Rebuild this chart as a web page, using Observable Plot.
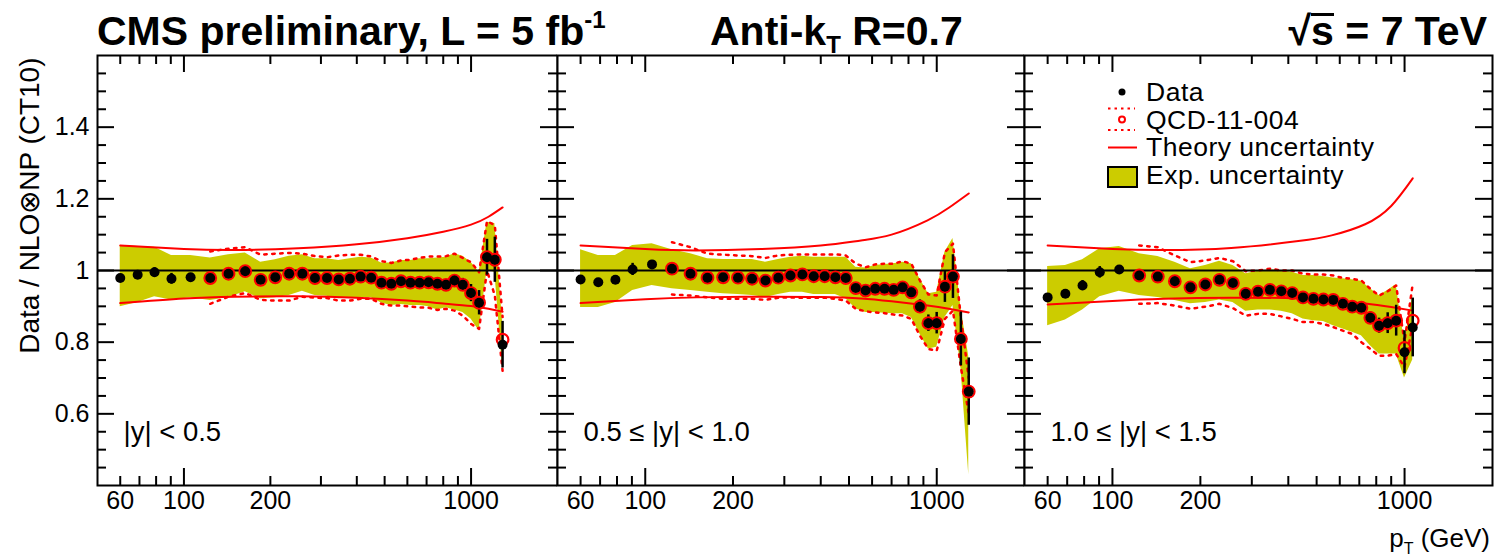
<!DOCTYPE html>
<html>
<head>
<meta charset="utf-8">
<script src="https://cdn.jsdelivr.net/npm/d3@7"></script>
<script src="https://cdn.jsdelivr.net/npm/@observablehq/plot@0.6"></script>
<style>
  html, body { margin: 0; padding: 0; background: #fff; }
  #chart { position: relative; width: 1496px; height: 560px; overflow: hidden;
           font-family: "Liberation Sans", Arial, Helvetica, sans-serif; color: #000; }
  #head { position: relative; height: 52px; }
  .title { position: absolute; top: 11px; font-weight: bold; font-size: 41px; line-height: 41px; white-space: nowrap; }
  .title .sup { font-size: 24px; position: relative; top: -17px; }
  .title .sub { font-size: 24px; position: relative; top: 8px; }
  .title .ovl { border-top: 3px solid #000; padding-top: 0; display: inline-block; line-height: 30px; }
  #plots { display: flex; align-items: flex-start; }
  #plots svg { flex: none; }
  #xtitle { position: absolute; right: 6px; top: 525px; font-size: 26px; line-height: 26px; white-space: nowrap; }
  #xtitle .sub { font-size: 16px; position: relative; top: 7px; }
  #legend { position: absolute; left: 1100px; top: 75px; }
</style>
</head>
<body>
<div id="chart">
  <div id="head">
    <span class="title" style="left:97px">CMS preliminary, L = 5 fb<span class="sup">-1</span></span>
    <span class="title" style="left:710px">Anti-k<span class="sub">T</span> R=0.7</span>
    <span class="title" style="right:9px">√<span class="ovl">s</span> = 7 TeV</span>
  </div>
  <div id="plots"></div>
  <svg id="legend" width="320" height="125" font-family="Liberation Sans, Arial, sans-serif" font-size="26.5" letter-spacing="0.5">
    <circle cx="22" cy="17" r="3.5" fill="#000"></circle>
    <text x="46" y="26">Data</text>
    <line x1="8" x2="35" y1="33.5" y2="33.5" stroke="#f00" stroke-width="2" stroke-dasharray="2.5,4"></line>
    <line x1="8" x2="35" y1="55" y2="55" stroke="#f00" stroke-width="2" stroke-dasharray="2.5,4"></line>
    <circle cx="22" cy="44.5" r="3" fill="none" stroke="#f00" stroke-width="2"></circle>
    <text x="46" y="53.5">QCD-11-004</text>
    <line x1="8" x2="37" y1="72.5" y2="72.5" stroke="#f00" stroke-width="2"></line>
    <text x="46" y="81">Theory uncertainty</text>
    <rect x="8" y="92" width="29" height="20" fill="#cccc00" stroke="#000" stroke-width="2"></rect>
    <text x="46" y="108.5">Exp. uncertainty</text>
  </svg>
  <div id="xtitle">p<span class="sub">T</span> (GeV)</div>
</div>
<script>
// Jet pT bin centres (GeV) shared by the three rapidity bins
const ptCenters = [60, 69, 79, 90.5, 105.5, 123.5, 143, 163.5, 185, 208, 232.5, 258.5, 286, 315, 346,
  378.5, 412.5, 449, 487.5, 527.5, 570, 615, 662, 711.5, 763.5, 818, 875.5, 936, 999.5, 1066.5,
  1136.5, 1210, 1287.5];
// first bin where the QCD-11-004 result is available
const qcdStart = 5;

const rapidityLabels = ["|y| < 0.5", "0.5 ≤ |y| < 1.0", "1.0 ≤ |y| < 1.5"];
const yTitle = "Data / NLO⊗NP (CT10)";

// |y| < 0.5
const ratioY0 = [0.979, 0.988, 0.995, 0.977, 0.981, 0.979, 0.991, 0.998, 0.974, 0.981, 0.991, 0.991, 0.979,
  0.979, 0.975, 0.977, 0.983, 0.980, 0.966, 0.963, 0.970, 0.966, 0.966, 0.967, 0.963, 0.960, 0.972, 0.960,
  0.937, 0.910, 1.037, 1.030, 0.793];
const statY0 = [0.004, 0.004, 0.013, 0.015, 0.004, 0.005, 0.012, 0.015, 0.005, 0.005, 0.005, 0.005, 0.013,
  0.005, 0.005, 0.005, 0.005, 0.005, 0.005, 0.005, 0.005, 0.005, 0.006, 0.006, 0.007, 0.008, 0.016, 0.018,
  0.024, 0.034, 0.050, 0.063, 0.065];
const expHiY0 = [1.070, 1.067, 1.065, 1.042, 1.042, 1.035, 1.044, 1.049, 1.023, 1.030, 1.040, 1.044, 1.033,
  1.033, 1.028, 1.033, 1.037, 1.035, 1.021, 1.021, 1.028, 1.028, 1.033, 1.033, 1.035, 1.037, 1.047, 1.040,
  1.023, 0.995, 1.135, 1.131, 0.860];
const expLoY0 = [0.899, 0.911, 0.927, 0.918, 0.924, 0.916, 0.925, 0.941, 0.921, 0.924, 0.930, 0.942, 0.930,
  0.928, 0.921, 0.924, 0.925, 0.924, 0.909, 0.902, 0.905, 0.902, 0.902, 0.899, 0.890, 0.896, 0.890, 0.883,
  0.865, 0.832, 1.000, 0.995, 0.725];
const qcdY0 = [0.979, 0.991, 0.998, 0.974, 0.981, 0.991, 0.991, 0.979, 0.979, 0.975, 0.977, 0.983, 0.980,
  0.966, 0.963, 0.970, 0.966, 0.966, 0.967, 0.963, 0.960, 0.972, 0.960, 0.937, 0.910, 1.037, 1.030, 0.807];
const qcdHiY0 = [1.053, 1.061, 1.065, 1.044, 1.047, 1.049, 1.047, 1.040, 1.037, 1.042, 1.044, 1.044, 1.039,
  1.026, 1.021, 1.028, 1.030, 1.035, 1.039, 1.039, 1.040, 1.047, 1.035, 1.023, 0.995, 1.138, 1.126, 0.870];
const qcdLoY0 = [0.907, 0.927, 0.937, 0.918, 0.916, 0.916, 0.927, 0.924, 0.923, 0.916, 0.916, 0.921, 0.921,
  0.907, 0.902, 0.902, 0.899, 0.897, 0.896, 0.890, 0.893, 0.888, 0.874, 0.851, 0.837, 1.000, 0.930, 0.720];
const theoryPtY0 = [60, 100, 150, 250, 400, 600, 800, 1000, 1150, 1287.5];
const theoryHiY0 = [1.070, 1.060, 1.057, 1.062, 1.073, 1.090, 1.108, 1.128, 1.150, 1.176];
const theoryLoY0 = [0.909, 0.922, 0.927, 0.928, 0.924, 0.916, 0.908, 0.901, 0.893, 0.885];

// 0.5 <= |y| < 1.0
const ratioY1 = [0.975, 0.967, 0.974, 1.003, 1.017, 1.005, 0.991, 0.980, 0.981, 0.980, 0.977, 0.972, 0.980,
  0.986, 0.989, 0.984, 0.984, 0.981, 0.979, 0.951, 0.944, 0.949, 0.949, 0.946, 0.953, 0.939, 0.899, 0.853,
  0.853, 0.955, 0.983, 0.809, 0.662];
const statY1 = [0.004, 0.004, 0.010, 0.017, 0.004, 0.005, 0.008, 0.015, 0.005, 0.005, 0.005, 0.005, 0.016,
  0.005, 0.005, 0.005, 0.005, 0.005, 0.005, 0.005, 0.005, 0.005, 0.005, 0.006, 0.006, 0.014, 0.019, 0.023,
  0.030, 0.044, 0.061, 0.075, 0.094];
const expHiY1 = [1.058, 1.042, 1.042, 1.070, 1.075, 1.058, 1.047, 1.033, 1.031, 1.031, 1.031, 1.023, 1.031,
  1.037, 1.040, 1.037, 1.037, 1.037, 1.037, 1.009, 1.007, 1.014, 1.017, 1.019, 1.023, 1.019, 0.977, 0.935,
  0.939, 1.051, 1.089, 0.897, 0.760];
const expLoY1 = [0.897, 0.897, 0.911, 0.944, 0.958, 0.949, 0.944, 0.939, 0.935, 0.933, 0.930, 0.925, 0.933,
  0.939, 0.939, 0.933, 0.933, 0.933, 0.921, 0.893, 0.883, 0.883, 0.881, 0.879, 0.879, 0.869, 0.823, 0.781,
  0.786, 0.869, 0.902, 0.730, 0.430];
const qcdY1 = [1.005, 0.991, 0.980, 0.981, 0.980, 0.977, 0.972, 0.980, 0.986, 0.989, 0.984, 0.984, 0.981,
  0.979, 0.951, 0.944, 0.949, 0.949, 0.946, 0.953, 0.939, 0.899, 0.853, 0.853, 0.955, 0.983, 0.809, 0.662];
const qcdHiY1 = [1.079, 1.065, 1.047, 1.044, 1.042, 1.040, 1.035, 1.042, 1.044, 1.045, 1.045, 1.045, 1.045,
  1.042, 1.019, 1.009, 1.017, 1.019, 1.019, 1.026, 1.019, 0.972, 0.933, 0.930, 1.051, 1.075, 0.869, 0.700];
const qcdLoY1 = [0.933, 0.930, 0.925, 0.921, 0.921, 0.921, 0.918, 0.924, 0.925, 0.924, 0.924, 0.924, 0.921,
  0.916, 0.893, 0.886, 0.883, 0.881, 0.877, 0.874, 0.865, 0.818, 0.781, 0.776, 0.865, 0.888, 0.730, 0.600];
const theoryPtY1 = [60, 100, 150, 250, 400, 550, 700, 930, 1100, 1287.5];
const theoryHiY1 = [1.070, 1.060, 1.056, 1.060, 1.070, 1.084, 1.100, 1.140, 1.175, 1.215];
const theoryLoY1 = [0.909, 0.920, 0.925, 0.927, 0.926, 0.922, 0.914, 0.902, 0.893, 0.883];

// 1.0 <= |y| < 1.5
const ratioY2 = [0.925, 0.935, 0.958, 0.995, 1.003, 0.986, 0.983, 0.970, 0.953, 0.961, 0.974, 0.965, 0.935,
  0.941, 0.946, 0.942, 0.937, 0.925, 0.921, 0.919, 0.918, 0.907, 0.899, 0.896, 0.868, 0.846, 0.853, 0.860,
  0.772, 0.841];
const statY2 = [0.004, 0.004, 0.014, 0.016, 0.004, 0.005, 0.006, 0.016, 0.005, 0.005, 0.005, 0.005, 0.016,
  0.005, 0.005, 0.005, 0.005, 0.005, 0.005, 0.005, 0.005, 0.005, 0.006, 0.006, 0.016, 0.021, 0.029, 0.043,
  0.060, 0.082];
const expHiY2 = [1.011, 1.014, 1.030, 1.061, 1.067, 1.047, 1.039, 1.023, 1.005, 1.014, 1.026, 1.014, 0.991,
  0.998, 1.002, 1.000, 0.995, 0.986, 0.986, 0.983, 0.979, 0.977, 0.974, 0.970, 0.949, 0.930, 0.944, 0.961,
  0.800, 0.930];
const expLoY2 = [0.846, 0.862, 0.890, 0.927, 0.942, 0.930, 0.925, 0.916, 0.907, 0.911, 0.918, 0.911, 0.886,
  0.890, 0.890, 0.886, 0.879, 0.865, 0.860, 0.858, 0.846, 0.837, 0.828, 0.818, 0.790, 0.767, 0.767, 0.767,
  0.700, 0.750];
const qcdY2 = [0.986, 0.983, 0.970, 0.953, 0.961, 0.974, 0.965, 0.935, 0.941, 0.946, 0.942, 0.937, 0.925,
  0.921, 0.919, 0.918, 0.907, 0.899, 0.896, 0.868, 0.846, 0.853, 0.860, 0.784, 0.860];
const qcdHiY2 = [1.070, 1.065, 1.042, 1.023, 1.028, 1.035, 1.026, 0.998, 1.000, 1.005, 1.000, 1.000, 0.991,
  0.989, 0.989, 0.986, 0.979, 0.977, 0.972, 0.949, 0.930, 0.942, 0.958, 0.800, 0.963];
const qcdLoY2 = [0.907, 0.909, 0.902, 0.893, 0.899, 0.907, 0.895, 0.874, 0.879, 0.879, 0.872, 0.865, 0.856,
  0.856, 0.851, 0.842, 0.832, 0.823, 0.800, 0.781, 0.762, 0.762, 0.767, 0.730, 0.850];
const theoryPtY2 = [60, 100, 150, 255, 433, 563, 733, 900, 1066.5];
const theoryHiY2 = [1.070, 1.060, 1.057, 1.063, 1.082, 1.098, 1.129, 1.180, 1.257];
const theoryLoY2 = [0.905, 0.915, 0.921, 0.924, 0.922, 0.916, 0.908, 0.898, 0.888];

// axis ticks
const yTickLabels = [0.6, 0.8, 1.0, 1.2, 1.4];
const yMinorTicks = [0.45, 0.5, 0.55, 0.65, 0.7, 0.75, 0.85, 0.9, 0.95, 1.05, 1.1, 1.15, 1.25, 1.3, 1.35, 1.45, 1.5, 1.55];
const xTickLabels = [60, 100, 200, 1000];
const xMajorTicks = [100, 1000];
const xMinorTicks = [60, 70, 80, 90, 200, 300, 400, 500, 600, 700, 800, 900];

const RED = "#ff0000";
const BAND = "#cccc00";
const xDomain = [50, 2000];
const yDomain = [0.4, 1.6];
// panel geometry: inner frame widths and outer margins
const frameWidths = [460, 467, 468];
const leftMargins = [97, 0, 0];
const rightMargins = [0, 0, 4];
const H = 508, MT = 3, MB = 75;
const CELL_H = H - MT - MB;

const series = [
  [ratioY0, statY0, expHiY0, expLoY0, qcdY0, qcdHiY0, qcdLoY0, theoryPtY0, theoryHiY0, theoryLoY0],
  [ratioY1, statY1, expHiY1, expLoY1, qcdY1, qcdHiY1, qcdLoY1, theoryPtY1, theoryHiY1, theoryLoY1],
  [ratioY2, statY2, expHiY2, expLoY2, qcdY2, qcdHiY2, qcdLoY2, theoryPtY2, theoryHiY2, theoryLoY2]
];

function panel(k) {
  const [ratio, stat, eHi, eLo, q, qHi, qLo, tPt, tHi, tLo] = series[k];
  const points = ratio.map((v, i) => ({pt: ptCenters[i], v, err: stat[i], hi: eHi[i], lo: eLo[i]}));
  const qcd = q.map((v, i) => ({pt: ptCenters[i + qcdStart], v, hi: qHi[i], lo: qLo[i]}));
  const theory = tPt.map((pt, i) => ({pt, hi: tHi[i], lo: tLo[i]}));

  // inward tick marks on all four sides; tick lengths are given in pixels
  const decadePx = frameWidths[k] / Math.log10(xDomain[1] / xDomain[0]);
  const unitPx = CELL_H / (yDomain[1] - yDomain[0]);
  const tickStyle = {stroke: "#000", strokeWidth: 2};
  const ticks = [];
  for (const [vals, len] of [[yTickLabels, 17], [yMinorTicks, 9]]) {
    const span = 10 ** (len / decadePx);
    ticks.push(Plot.ruleY(vals, {y: d => d, x1: xDomain[0], x2: xDomain[0] * span, ...tickStyle}));
    ticks.push(Plot.ruleY(vals, {y: d => d, x1: xDomain[1] / span, x2: xDomain[1], ...tickStyle}));
  }
  for (const [vals, len] of [[xMajorTicks, 17], [xMinorTicks, 9]]) {
    const span = len / unitPx;
    ticks.push(Plot.ruleX(vals, {x: d => d, y1: yDomain[0], y2: yDomain[0] + span, ...tickStyle}));
    ticks.push(Plot.ruleX(vals, {x: d => d, y1: yDomain[1] - span, y2: yDomain[1], ...tickStyle}));
  }

  const yLabels = k === 0 ? [
    Plot.text(yTickLabels, {y: d => d, text: d => String(d), frameAnchor: "left", textAnchor: "end", dx: -8, fontSize: 25}),
    Plot.text([yTitle], {text: d => d, frameAnchor: "top-left", rotate: -90, textAnchor: "end",
      lineAnchor: "middle", dx: -67, dy: 2, fontSize: 28})
  ] : [];

  return Plot.plot({
    width: leftMargins[k] + frameWidths[k] + rightMargins[k], height: H,
    marginLeft: leftMargins[k], marginRight: rightMargins[k], marginTop: MT, marginBottom: MB,
    style: {fontFamily: "Liberation Sans, Arial, Helvetica, sans-serif", fontSize: "25px",
      background: "#fff", color: "#000", overflow: "visible"},
    x: {type: "log", domain: xDomain, axis: null},
    y: {domain: yDomain, axis: null},
    marks: [
      // experimental uncertainty band
      Plot.areaY(points, {x: "pt", y1: "lo", y2: "hi", fill: BAND, clip: true}),
      // QCD-11-004 uncertainty (dotted)
      Plot.line(qcd, {x: "pt", y: "hi", stroke: RED, strokeWidth: 2.5, strokeDasharray: "2.5,5.5", clip: true}),
      Plot.line(qcd, {x: "pt", y: "lo", stroke: RED, strokeWidth: 2.5, strokeDasharray: "2.5,5.5", clip: true}),
      // theory uncertainty envelope
      Plot.line(theory, {x: "pt", y: "hi", stroke: RED, strokeWidth: 2, curve: "natural", clip: true}),
      Plot.line(theory, {x: "pt", y: "lo", stroke: RED, strokeWidth: 2, curve: "natural", clip: true}),
      Plot.ruleY([1], {stroke: "#000", strokeWidth: 2}),
      // statistical error bars
      Plot.ruleX(points, {x: "pt", y1: d => d.v - d.err, y2: d => d.v + d.err, stroke: "#000", strokeWidth: 2.5, clip: true}),
      Plot.dot(qcd, {x: "pt", y: "v", r: 5.8, stroke: RED, strokeWidth: 2.2, fill: "none"}),
      Plot.dot(points, {x: "pt", y: "v", r: 5, fill: "#000"}),
      Plot.frame({stroke: "#000", strokeWidth: 2}),
      ...ticks,
      Plot.text(xTickLabels, {x: d => d, text: d => String(d), frameAnchor: "bottom", lineAnchor: "top", dy: 6, fontSize: 25}),
      Plot.text([rapidityLabels[k]], {text: d => d, frameAnchor: "bottom-left", textAnchor: "start",
        dx: 26, dy: -45, fontSize: 27.5}),
      ...yLabels
    ]
  });
}

const holder = document.getElementById("plots");
for (let k = 0; k < 3; k++) holder.appendChild(panel(k));
</script>
</body>
</html>
